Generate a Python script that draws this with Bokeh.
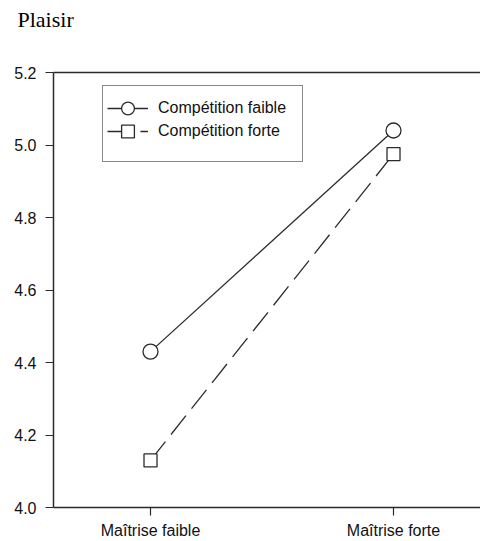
from bokeh.plotting import figure
from bokeh.models import (FixedTicker, LinearAxis, Range1d, Legend, LegendItem,
                          PrintfTickFormatter, ColumnDataSource, Title)
from bokeh.embed import file_html
from bokeh.resources import INLINE

# ---- data ----
categories = ["Maîtrise faible", "Maîtrise forte"]
competition_faible = [4.43, 5.04]
competition_forte = [4.13, 4.975]
y_ticks = [4.0, 4.2, 4.4, 4.6, 4.8, 5.0, 5.2]
series_names = ["Compétition faible", "Compétition forte"]
title_text = "Plaisir"

xpos = list(range(len(categories)))

INK = "#2b2b2b"
SANS = "Liberation Sans"

p = figure(width=480, height=541, output_backend="svg", toolbar_location=None,
           x_range=Range1d(-0.3992, 1.358), y_range=Range1d(4.0, 5.2),
           min_border_left=53, min_border_right=0, min_border_top=72,
           min_border_bottom=34, x_axis_type=None, y_axis_type=None)
p.outline_line_color = None
p.background_fill_color = "white"
p.border_fill_color = "white"
p.grid.visible = False

# left axis
yax = LinearAxis(ticker=FixedTicker(ticks=y_ticks),
                 formatter=PrintfTickFormatter(format="%.1f"))
yax.major_tick_out = 8
yax.major_tick_in = 0
yax.minor_tick_out = 0
yax.minor_tick_in = 0
yax.major_label_standoff = 9
yax.major_label_text_font = SANS
yax.major_label_text_font_size = "16px"
yax.major_label_text_color = "#111111"
yax.axis_line_color = INK
yax.axis_line_width = 1.5
yax.major_tick_line_color = INK
yax.major_tick_line_width = 1.2
p.add_layout(yax, "left")

# bottom axis
xax = LinearAxis(ticker=FixedTicker(ticks=xpos),
                 major_label_overrides={i: c for i, c in zip(xpos, categories)})
xax.major_tick_out = 8
xax.major_tick_in = 0
xax.minor_tick_out = 0
xax.minor_tick_in = 0
xax.major_label_standoff = 6
xax.major_label_text_font = SANS
xax.major_label_text_font_size = "16px"
xax.major_label_text_color = "#111111"
xax.axis_line_color = INK
xax.axis_line_width = 1.5
xax.major_tick_line_color = INK
xax.major_tick_line_width = 1.2
p.add_layout(xax, "below")

# top frame line (axis without ticks)
tax = LinearAxis(ticker=FixedTicker(ticks=[]))
tax.major_tick_out = 0
tax.major_tick_in = 0
tax.minor_tick_out = 0
tax.minor_tick_in = 0
tax.major_label_text_font_size = "0px"
tax.major_label_standoff = 0
tax.axis_line_color = INK
tax.axis_line_width = 1.5
p.add_layout(tax, "above")

# spacer title, then the chart title further out
p.add_layout(Title(text=" ", text_font_size="1px", standoff=38), "above")
p.add_layout(Title(text=title_text, align="left", offset=-36, standoff=0,
                   text_font="Liberation Serif", text_font_size="22px",
                   text_font_style="normal", text_color="#000000"), "above")

src1 = ColumnDataSource(dict(x=xpos, y=competition_faible))
src2 = ColumnDataSource(dict(x=xpos, y=competition_forte))

l1 = p.line("x", "y", source=src1, line_color=INK, line_width=1.3)
m1 = p.scatter("x", "y", source=src1, marker="circle", size=15,
               fill_color="white", line_color=INK, line_width=1.3)
l2 = p.line("x", "y", source=src2, line_color=INK, line_width=1.3,
            line_dash="24 9")
m2 = p.scatter("x", "y", source=src2, marker="square", size=13,
               fill_color="white", line_color=INK, line_width=1.3)

# legend frame (box only)
spacer = p.line(x=[], y=[], line_alpha=0)
box = Legend(items=[LegendItem(label=" ", renderers=[spacer])],
             location=(49, 345))
box.padding = 0
box.spacing = 0
box.margin = 0
box.label_height = 75
box.glyph_height = 20
box.glyph_width = 41
box.label_standoff = 10
box.label_width = 148
box.border_line_color = "#111111"
box.border_line_width = 1.2
box.background_fill_color = "white"
box.background_fill_alpha = 1.0
p.add_layout(box, "center")

# one borderless legend per series, for the 23px row pitch of the original
row_y = [383, 360]
for name, rends, ry in zip(series_names, [[l1, m1], [l2, m2]], row_y):
    lg = Legend(items=[LegendItem(label=name, renderers=rends)],
                location=(54, ry))
    lg.padding = 0
    lg.spacing = 0
    lg.margin = 0
    lg.label_height = 32
    lg.glyph_height = 32
    lg.glyph_width = 41
    lg.label_standoff = 10
    lg.label_text_font = SANS
    lg.label_text_font_size = "16px"
    lg.label_text_color = "#111111"
    lg.border_line_color = None
    lg.background_fill_alpha = 0.0
    p.add_layout(lg, "center")

open("out.html", "w").write(file_html(p, INLINE))
